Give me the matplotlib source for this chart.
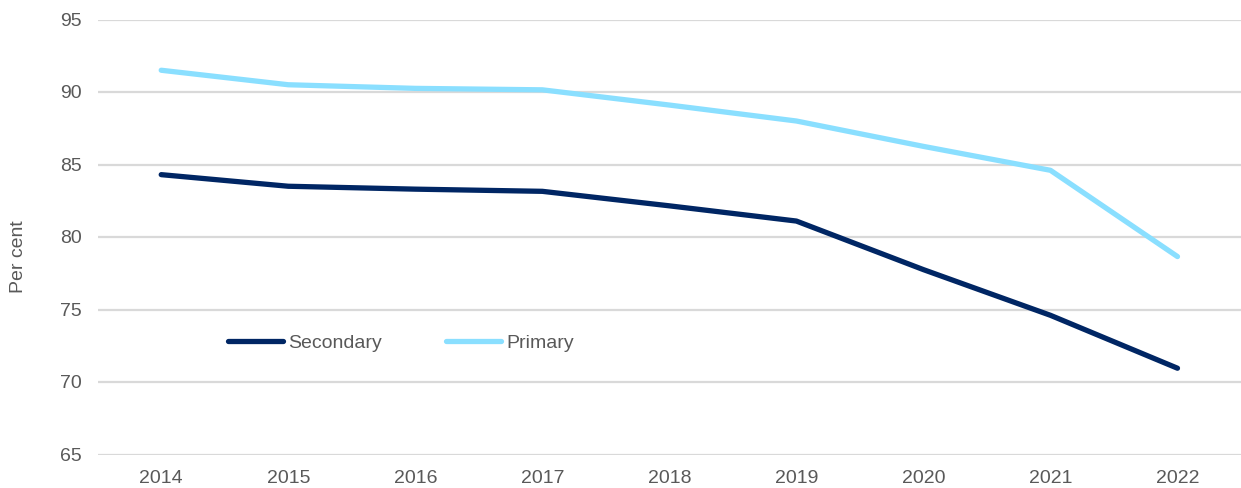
import matplotlib
matplotlib.use("Agg")
import matplotlib.pyplot as plt

years = ["2014", "2015", "2016", "2017", "2018", "2019", "2020", "2021", "2022"]
secondary = [84.3, 83.5, 83.3, 83.15, 82.15, 81.1, 77.75, 74.6, 70.95]
primary = [91.5, 90.5, 90.25, 90.15, 89.1, 88.0, 86.25, 84.6, 78.65]
yticks = [65, 70, 75, 80, 85, 90, 95]

plt.rcParams['font.family'] = ['Liberation Sans', 'DejaVu Sans']
grey = '#595959'

fig = plt.figure(figsize=(12.41, 4.88), dpi=100)
ax = fig.add_axes([97.7 / 1241, 1 - 454.5 / 488, 1 - 97.7 / 1241, (454.5 - 19.5) / 488])

x = list(range(len(years)))
ax.plot(x, secondary, color='#002664', lw=3.8, solid_capstyle='round', solid_joinstyle='round', label='Secondary', zorder=3)
ax.plot(x, primary, color='#8ADFFF', lw=3.8, solid_capstyle='round', solid_joinstyle='round', label='Primary', zorder=3)

ax.set_xlim(-0.5, len(years) - 0.5)
ax.set_ylim(65, 95)
ax.set_yticks(yticks)
ax.set_xticks(x)
ax.set_xticklabels(years)
ax.yaxis.grid(True, color='#D9D9D9', lw=1.6)
ax.set_axisbelow(True)
for s in ax.spines.values():
    s.set_visible(False)
ax.tick_params(axis='both', length=0, labelsize=14, colors=grey)
ax.tick_params(axis='y', pad=11.5)
ax.tick_params(axis='x', pad=11)
ax.set_ylabel('Per cent', fontsize=14, color=grey)
ax.yaxis.set_label_coords(-0.062, 0.455)

leg = fig.legend(loc='center left', bbox_to_anchor=(228 / 1241, 1 - 343 / 488), ncol=2, frameon=False,
                 fontsize=14, handlelength=2.83, handletextpad=0.26, columnspacing=3.3,
                 borderpad=0, borderaxespad=0)
for t in leg.get_texts():
    t.set_color(grey)

fig.savefig('out.png', dpi=100)
